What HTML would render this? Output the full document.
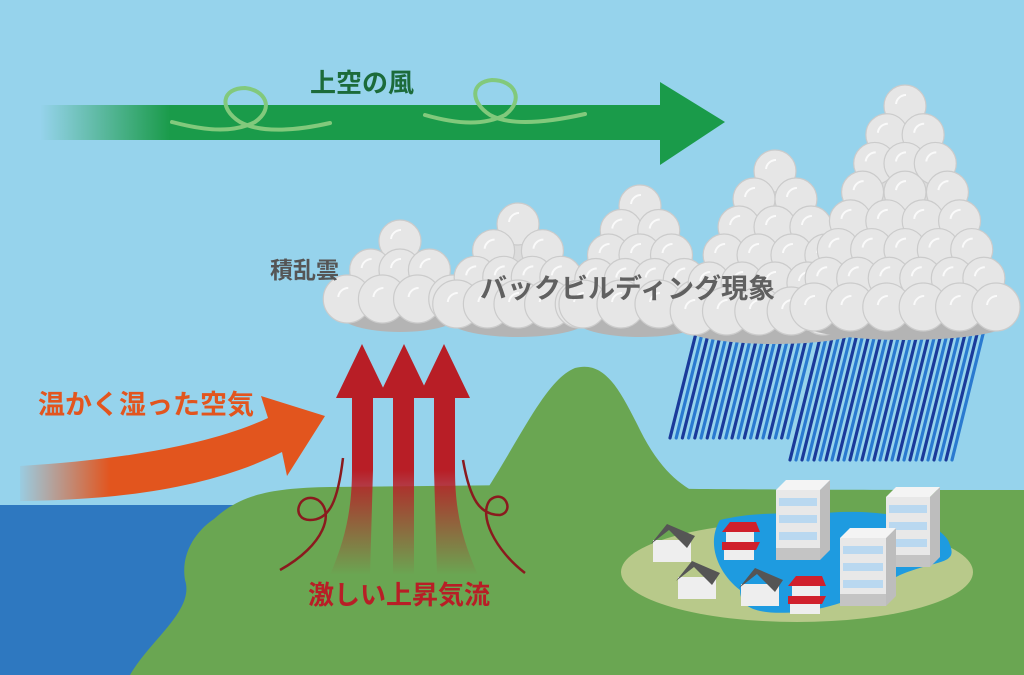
<!DOCTYPE html>
<html><head><meta charset="utf-8">
<style>
html,body{margin:0;padding:0;background:#96d3ec;}
svg{display:block}
text{font-family:"Liberation Sans","Noto Sans CJK JP",sans-serif;font-weight:bold}
</style></head>
<body>
<svg id="s" width="1024" height="675" viewBox="0 0 1024 675" xmlns="http://www.w3.org/2000/svg">
<defs>
<linearGradient id="gg" x1="40" y1="0" x2="170" y2="0" gradientUnits="userSpaceOnUse">
<stop offset="0" stop-color="#1a9b4a" stop-opacity="0"/><stop offset="1" stop-color="#1a9b4a"/></linearGradient>
<linearGradient id="og" x1="15" y1="0" x2="110" y2="0" gradientUnits="userSpaceOnUse">
<stop offset="0" stop-color="#e2551e" stop-opacity="0"/><stop offset="1" stop-color="#e2551e"/></linearGradient>
<linearGradient id="rg" x1="0" y1="470" x2="0" y2="575" gradientUnits="userSpaceOnUse">
<stop offset="0" stop-color="#b81e26"/><stop offset="1" stop-color="#b81e26" stop-opacity="0"/></linearGradient>
</defs>
<rect width="1024" height="675" fill="#96d3ec"/>
<rect x="0" y="505" width="260" height="170" fill="#2e78c0"/>
<path d="M480 500 C520 440 545 380 575 368 C605 360 620 390 640 430 C660 470 680 485 700 495 L700 520 L480 520Z" fill="#6aa652"/>
<path d="M214 519 C240 495 270 488 330 487 L520 485 C600 488 680 490 1024 490 L1024 675 L130 675 C150 640 195 610 185 580 C180 550 200 528 214 519Z" fill="#6aa652"/>
<ellipse cx="797" cy="572" rx="176" ry="50" fill="#b8c98a"/>
<path d="M720 520 C760 510 800 515 840 512 C900 510 945 525 950 545 C958 565 935 560 900 575 C870 590 850 605 800 612 C760 615 740 610 740 590 C720 575 705 545 720 520Z" fill="#1e9be0"/>
<g id="bld"></g>
<g id="rain" stroke-linecap="round" stroke-width="3.2"></g>
<g id="clouds"></g>
<path d="M40 105 L660 105 L660 82 L725 122 L660 165 L660 140 L40 140Z" fill="url(#gg)"/>
<g fill="none" stroke="#82c97c" stroke-width="4" stroke-linecap="round">
<path d="M172 122 C210 132 235 132 255 122 C275 108 265 90 245 88 C222 88 218 108 240 122 C262 134 300 130 330 123"/>
<path d="M425 115 C460 125 485 125 505 115 C525 100 515 80 492 80 C470 82 470 102 490 115 C510 126 545 123 585 114"/>
</g>
<text x="310" y="92" font-size="26" fill="#1c6b3a">上空の風</text>
<path d="M20 466 C120 460 210 445 268 418 L261 396 L325 416 L287 476 L282 452 C210 488 120 500 20 501Z" fill="url(#og)"/>
<text x="38" y="414" font-size="27" fill="#e2551e">温かく湿った空気</text>
<g fill="#b81e26">
<path d="M352 398 L336 398 L362 344 L388 398 L373 398 L373 470 L352 470Z"/>
<path d="M393 398 L378 398 L404 344 L430 398 L414 398 L414 470 L393 470Z"/>
<path d="M434 398 L418 398 L444 344 L470 398 L455 398 L455 470 L434 470Z"/>
</g>
<g fill="url(#rg)">
<path d="M352 470 L373 470 L370 575 L330 575 C345 540 352 510 352 470Z"/>
<rect x="393" y="470" width="21" height="105"/>
<path d="M434 470 L455 470 C455 510 462 540 478 575 L437 575Z"/>
</g>
<g fill="none" stroke="#8a1a1e" stroke-width="2.5">
<path d="M343 458 C338 500 330 520 310 520 C290 520 298 490 318 500 C335 512 325 545 280 570"/>
<path d="M463 460 C470 500 480 515 500 515 C515 512 505 488 490 500 C478 515 495 550 525 573"/>
</g>
<text x="308" y="604" font-size="26" fill="#b81e26">激しい上昇気流</text>
<text x="270" y="278" font-size="23" fill="#555">積乱雲</text>
<text x="480" y="298" font-size="27" fill="#606060">バックビルディング現象</text>
</svg>
<script>
var NS="http://www.w3.org/2000/svg";
function el(p,t,a){var e=document.createElementNS(NS,t);for(var k in a)e.setAttribute(k,a[k]);p.appendChild(e);return e;}
var cg=document.getElementById('clouds');
function cloud(cx,top,bot,hw){
  var r=21,rows=Math.max(2,Math.round((bot-top-2*r)/30));
  el(cg,'ellipse',{cx:cx,cy:bot-16,rx:hw+6,ry:18,fill:'#b4b4b4'});
  el(cg,'polygon',{points:cx+','+(top+10)+' '+(cx-hw)+','+(bot-20)+' '+(cx+hw)+','+(bot-20),fill:'#dcdcdc'});
  for(var i=rows;i>=0;i--){
    var y=bot-r-10-i*(bot-top-2*r-10)/rows;
    var w=hw*(1-i/rows)*0.85+6;
    var n=Math.max(1,Math.round(2*w/34));
    for(var j=0;j<=n;j++){
      var x=n==0?cx:cx-w+j*(2*w)/n;
      if(n==1&&i==rows){x=cx; if(j>0)continue;}
      el(cg,'circle',{cx:x,cy:y,r:r+(i==0?3:0),fill:'#e6e6e6',stroke:'#cbcbcb','stroke-width':1.2});
      el(cg,'path',{d:'M'+(x-9)+' '+(y-2)+' a10 10 0 0 1 10 -9',fill:'none',stroke:'#fafafa','stroke-width':2});
    }
  }
}
cloud(400,220,330,55);
cloud(518,203,335,65);
cloud(640,185,335,60);
cloud(775,150,342,88);
cloud(905,85,338,100);
var rg=document.getElementById('rain');
for(var i=0;i<20;i++){var x=698+i*6.2;el(rg,'line',{x1:x,y1:325,x2:x-28,y2:438,stroke:i%2?'#2a7ad0':'#1a3a9a'});}
for(var i=0;i<28;i++){var x=823+i*6;el(rg,'line',{x1:x,y1:326,x2:x-33,y2:460,stroke:i%2?'#2a7ad0':'#1a3a9a'});}
var b=document.getElementById('bld');
function tower(x,y,w,h){
  el(b,'polygon',{points:(x+w)+','+y+' '+(x+w+10)+','+(y-10)+' '+(x+w+10)+','+(y+h-10)+' '+(x+w)+','+(y+h),fill:'#bdbdbd'});
  el(b,'polygon',{points:x+','+y+' '+(x+10)+','+(y-10)+' '+(x+w+10)+','+(y-10)+' '+(x+w)+','+y,fill:'#f4f4f4'});
  el(b,'rect',{x:x,y:y,width:w,height:h,fill:'#e8e8e8'});
  for(var k=0;k<4;k++)el(b,'rect',{x:x+3,y:y+8+k*17,width:w-6,height:8,fill:'#b9d8f0'});
  el(b,'rect',{x:x,y:y+h-12,width:w,height:12,fill:'#c4c4c4'});
}
function house(x,y,red){
  if(red){el(b,'polygon',{points:x+','+(y+4)+' '+(x+8)+','+(y-6)+' '+(x+34)+','+(y-6)+' '+(x+38)+','+(y+4),fill:'#d0202c'});
    el(b,'rect',{x:x+4,y:y+4,width:28,height:10,fill:'#eee'});
    el(b,'polygon',{points:x+','+(y+14)+' '+(x+38)+','+(y+14)+' '+(x+34)+','+(y+22)+' '+x+','+(y+22),fill:'#d0202c'});
    el(b,'rect',{x:x+2,y:y+22,width:30,height:10,fill:'#eee'});}
  else{el(b,'rect',{x:x,y:y+14,width:38,height:22,fill:'#eee'});
    el(b,'polygon',{points:(x-2)+','+(y+18)+' '+(x+14)+','+(y-2)+' '+(x+42)+','+(y+10)+' '+(x+34)+','+(y+22)+' '+(x+16)+','+(y+4),fill:'#555'});}
}
tower(776,490,44,70);tower(886,497,44,70);tower(840,538,46,68);
house(653,526,false);house(678,563,false);house(741,570,false);
house(722,528,true);house(788,582,true);
</script>
</body></html>
